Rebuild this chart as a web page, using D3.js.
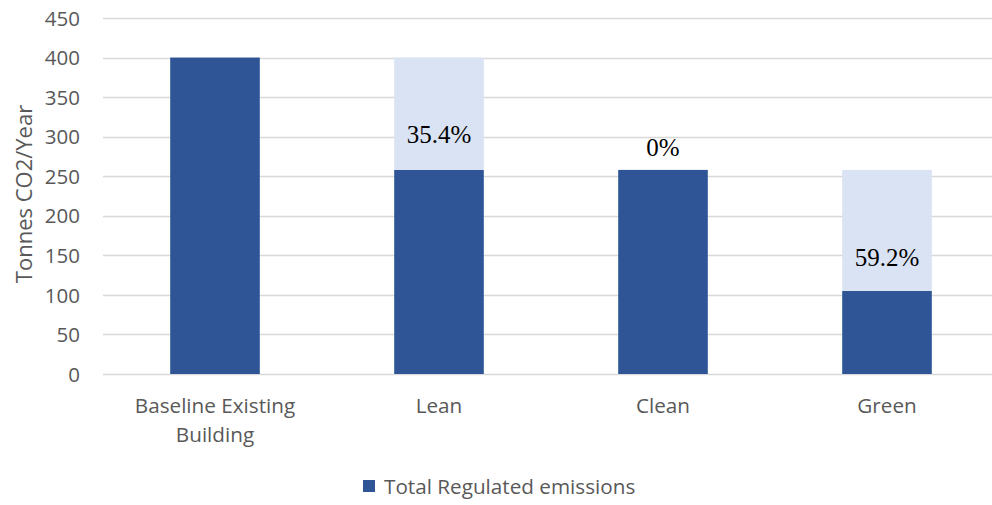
<!DOCTYPE html>
<html><head><meta charset="utf-8">
<script src="https://cdn.jsdelivr.net/npm/d3@7"></script>
<style>body{margin:0;background:#fff}svg{display:block}</style>
</head><body>
<svg id="c" width="992" height="505"></svg>
<script>
const categories = ["Baseline Existing Building", "Lean", "Clean", "Green"];
const categoryLines = [["Baseline Existing", "Building"], ["Lean"], ["Clean"], ["Green"]];
const regulated = [400, 258, 258, 105];       // Total Regulated emissions (dark)
const reduction = [0, 142, 0, 153];           // saving on previous stage (light)
const reductionLabels = [null, "35.4%", "0%", "59.2%"];
const labelAt = [null, 292, 276, 137];        // value at which label baseline sits
const yTicks = [0, 50, 100, 150, 200, 250, 300, 350, 400, 450];
const legendLabel = "Total Regulated emissions";
const yTitle = "Tonnes CO2/Year";

const dark = "#2F5597", light = "#DAE3F3";
const svg = d3.select("#c");
const x = d3.scaleBand().domain(categories).range([103, 999]).paddingInner(0.6).paddingOuter(0.3);
const y = d3.scaleLinear().domain([0, 450]).range([374, 18]);
const font = "'Open Sans', sans-serif";

// gridlines
svg.append("g").selectAll("line").data(yTicks).join("line")
  .attr("x1", 103).attr("x2", 992)
  .attr("y1", d => Math.round(y(d)) + 0.5).attr("y2", d => Math.round(y(d)) + 0.5)
  .attr("stroke", "#d9d9d9").attr("stroke-width", 1.3);

// y axis labels
const yAxis = d3.axisLeft(y).tickValues(yTicks).tickSize(0).tickPadding(0);
const ga = svg.append("g").attr("transform", "translate(80,0)").call(yAxis);
ga.select(".domain").remove();
ga.selectAll("text").attr("font-family", font).attr("font-size", 20.5).attr("fill", "#595959").attr("dy", "0.35em");

// stacks
const rows = categories.map((c, i) => ({c, a: regulated[i], b: reduction[i]}));
svg.append("g").selectAll("rect.d").data(rows).join("rect")
  .attr("x", d => x(d.c)).attr("width", x.bandwidth())
  .attr("y", d => y(d.a)).attr("height", d => y(0) - y(d.a)).attr("fill", dark);
svg.append("g").selectAll("rect.l").data(rows.filter(d => d.b > 0)).join("rect")
  .attr("x", d => x(d.c)).attr("width", x.bandwidth())
  .attr("y", d => y(d.a + d.b)).attr("height", d => y(d.a) - y(d.a + d.b)).attr("fill", light);

// percentage labels
svg.append("g").selectAll("text").data(categories.map((c, i) => ({c, t: reductionLabels[i], v: labelAt[i]})).filter(d => d.t))
  .join("text")
  .attr("x", d => x(d.c) + x.bandwidth() / 2).attr("y", d => y(d.v))
  .attr("text-anchor", "middle").attr("font-family", "'Liberation Serif', 'Times New Roman', serif")
  .attr("font-size", 25).attr("fill", "#000").text(d => d.t);

// category labels
const gx = svg.append("g");
categories.forEach((c, i) => {
  const t = gx.append("text").attr("x", x(c) + x.bandwidth() / 2).attr("y", 413)
    .attr("text-anchor", "middle").attr("font-family", font).attr("font-size", 20.7).attr("fill", "#595959");
  categoryLines[i].forEach((ln, j) => t.append("tspan").attr("x", x(c) + x.bandwidth() / 2).attr("dy", j ? 29 : 0).text(ln));
});

// y title
svg.append("text").attr("transform", "translate(32,194) rotate(-90)").attr("text-anchor", "middle")
  .attr("font-family", font).attr("font-size", 22).attr("fill", "#595959").text(yTitle);

// legend
svg.append("rect").attr("x", 363).attr("y", 480).attr("width", 12).attr("height", 12).attr("fill", dark);
svg.append("text").attr("x", 384).attr("y", 494).attr("font-family", font).attr("font-size", 20.7).attr("fill", "#595959").text(legendLabel);
</script>
</body></html>
